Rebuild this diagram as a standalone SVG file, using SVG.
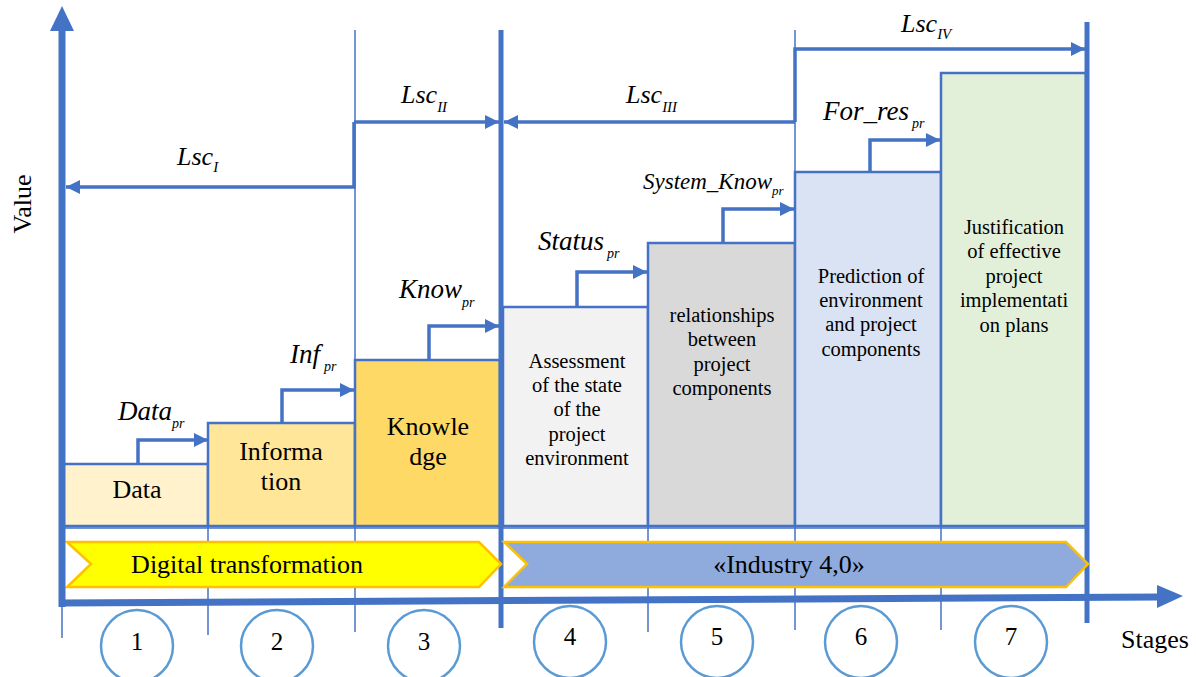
<svg xmlns="http://www.w3.org/2000/svg" width="1196" height="677" viewBox="0 0 1196 677" font-family="Liberation Serif, DejaVu Serif, serif">
<style>
  .t { fill: #000; }
  .lbl { font-style: italic; fill: #000; }
  .box { stroke: #4472C4; stroke-width: 2.5; }
  .conn { fill: none; stroke: #4472C4; stroke-width: 3.5; }
  .grid { stroke: #4472C4; stroke-width: 1.5; }
  .thick { stroke: #4472C4; stroke-width: 5; }
  .circ { fill: #fff; stroke: #5B9BD5; stroke-width: 2.5; }
  .chev { stroke: #FFC000; stroke-width: 2.5; }
</style>
<defs>
  <marker id="ah" markerUnits="userSpaceOnUse" markerWidth="15" markerHeight="15" refX="14" refY="7" orient="auto">
    <path d="M0,0 L14,7 L0,14 z" fill="#4472C4"/>
  </marker>
</defs>
<rect width="1196" height="677" fill="#fff"/>

<g id="grid">
  <line class="grid" x1="62" y1="605" x2="62" y2="638"/>
  <line class="grid" x1="208" y1="526" x2="208" y2="635"/>
  <line class="grid" x1="355" y1="30" x2="355" y2="632"/>
  <line class="grid" x1="648" y1="526" x2="648" y2="632"/>
  <line class="grid" x1="795" y1="30" x2="795" y2="630"/>
  <line class="grid" x1="941" y1="526" x2="941" y2="630"/>
  <line class="grid" x1="62" y1="528" x2="1087" y2="528"/>
</g>

<g id="box1"><rect class="box" x="63" y="464" width="145" height="62" fill="#FFF2CC"/>
  <text class="t" x="137" y="498" font-size="26" text-anchor="middle">Data</text></g>
<g id="box2"><rect class="box" x="208" y="423" width="147" height="103" fill="#FFE699"/>
  <text class="t" x="281" y="460" font-size="26" text-anchor="middle">Informa</text>
  <text class="t" x="281" y="490" font-size="26" text-anchor="middle">tion</text></g>
<g id="box3"><rect class="box" x="355" y="360" width="145" height="166" fill="#FFD966"/>
  <text class="t" x="428" y="435" font-size="26" text-anchor="middle">Knowle</text>
  <text class="t" x="428" y="465" font-size="26" text-anchor="middle">dge</text></g>
<g id="box4"><rect class="box" x="503" y="307" width="145" height="219" fill="#F2F2F2"/>
  <g class="t" font-size="20.5" text-anchor="middle">
  <text x="577" y="368">Assessment</text><text x="577" y="392">of the state</text><text x="577" y="416">of the</text><text x="577" y="441">project</text><text x="577" y="465">environment</text></g></g>
<g id="box5"><rect class="box" x="648" y="243" width="147" height="283" fill="#D9D9D9"/>
  <g class="t" font-size="20.5" text-anchor="middle">
  <text x="722" y="322">relationships</text><text x="722" y="346">between</text><text x="722" y="371">project</text><text x="722" y="395">components</text></g></g>
<g id="box6"><rect class="box" x="795" y="172" width="146" height="354" fill="#DAE3F3"/>
  <g class="t" font-size="20.5" text-anchor="middle">
  <text x="871" y="283">Prediction of</text><text x="871" y="307">environment</text><text x="871" y="331">and project</text><text x="871" y="356">components</text></g></g>
<g id="box7"><rect class="box" x="941" y="73" width="145" height="453" fill="#E2F0D9"/>
  <g class="t" font-size="20.5" text-anchor="middle">
  <text x="1014" y="234">Justification</text><text x="1014" y="258">of effective</text><text x="1014" y="283">project</text><text x="1014" y="307">implementati</text><text x="1014" y="332">on plans</text></g></g>

<g id="dividers">
  <line class="thick" x1="501" y1="30" x2="501" y2="628"/>
  <line class="thick" x1="1087" y1="22" x2="1087" y2="623"/>
</g>

<g id="connectors">
  <path class="conn" d="M138,464 V440 H208" marker-end="url(#ah)"/>
  <path class="conn" d="M282,423 V390 H354" marker-end="url(#ah)"/>
  <path class="conn" d="M429,360 V326 H499" marker-end="url(#ah)"/>
  <path class="conn" d="M577,307 V272 H647" marker-end="url(#ah)"/>
  <path class="conn" d="M723,243 V209 H794" marker-end="url(#ah)"/>
  <path class="conn" d="M870,172 V140 H940" marker-end="url(#ah)"/>
  <path class="conn" d="M354,122 V187 H66" marker-end="url(#ah)"/>
  <path class="conn" d="M354,122 H499" marker-end="url(#ah)"/>
  <path class="conn" d="M795,122 H504" marker-end="url(#ah)"/>
  <path class="conn" d="M795,122 V49 H1085" marker-end="url(#ah)"/>
</g>

<g id="labels">
  <text class="lbl" x="177" y="165" font-size="26">Lsc<tspan font-size="15" dy="7">I</tspan></text>
  <text class="lbl" x="401" y="103" font-size="26">Lsc<tspan font-size="15" dy="9">II</tspan></text>
  <text class="lbl" x="626" y="103" font-size="26">Lsc<tspan font-size="15" dy="9">III</tspan></text>
  <text class="lbl" x="901" y="32" font-size="26">Lsc<tspan font-size="15" dy="7">IV</tspan></text>
  <text class="lbl" x="118" y="420" font-size="27">Data<tspan font-size="14" dy="8">pr</tspan></text>
  <text class="lbl" x="290" y="363" font-size="27">Inf<tspan font-size="14" dy="8" dx="4">pr</tspan></text>
  <text class="lbl" x="399" y="298" font-size="27">Know<tspan font-size="14" dy="9">pr</tspan></text>
  <text class="lbl" x="538" y="250" font-size="27">Status<tspan font-size="14" dy="8" dx="3">pr</tspan></text>
  <text class="lbl" x="643" y="189" font-size="23">System_Know<tspan font-size="13" dy="6">pr</tspan></text>
  <text class="lbl" x="823" y="120" font-size="27">For_res<tspan font-size="14" dy="8" dx="3">pr</tspan></text>
</g>

<g id="band-digital">
  <polygon class="chev" points="67,542 479,542 501,564 479,587 67,587 91,564" fill="#FFFF00"/>
  <text class="t" x="247" y="573" font-size="26" text-anchor="middle">Digital transformation</text>
</g>
<g id="band-industry">
  <polygon class="chev" points="504,542 1066,542 1088,564 1066,587 504,587 527,564" fill="#8FAADC"/>
  <text class="t" x="789" y="573" font-size="26" text-anchor="middle">«Industry 4,0»</text>
</g>

<g id="axes">
  <line x1="62" y1="607" x2="62" y2="26" stroke="#4472C4" stroke-width="7"/>
  <polygon points="62,6 74,31 50,31" fill="#4472C4"/>
  <line x1="59" y1="603" x2="1160" y2="597" stroke="#4472C4" stroke-width="7"/>
  <polygon points="1183,596 1157,585 1157,608" fill="#4472C4"/>
  <text class="t" transform="translate(31,204) rotate(-90)" font-size="26" text-anchor="middle">Value</text>
  <text class="t" x="1121" y="648" font-size="26">Stages</text>
</g>

<g id="stages">
  <g id="s1"><circle class="circ" cx="137" cy="646" r="36"/><text class="t" x="137" y="650" font-size="25" text-anchor="middle">1</text></g>
  <g id="s2"><circle class="circ" cx="277" cy="646" r="36"/><text class="t" x="277" y="650" font-size="25" text-anchor="middle">2</text></g>
  <g id="s3"><circle class="circ" cx="424" cy="646" r="36"/><text class="t" x="424" y="650" font-size="25" text-anchor="middle">3</text></g>
  <g id="s4"><circle class="circ" cx="570" cy="642" r="36"/><text class="t" x="570" y="645" font-size="25" text-anchor="middle">4</text></g>
  <g id="s5"><circle class="circ" cx="717" cy="642" r="36"/><text class="t" x="717" y="645" font-size="25" text-anchor="middle">5</text></g>
  <g id="s6"><circle class="circ" cx="861" cy="642" r="36"/><text class="t" x="861" y="645" font-size="25" text-anchor="middle">6</text></g>
  <g id="s7"><circle class="circ" cx="1011" cy="642" r="36"/><text class="t" x="1011" y="645" font-size="25" text-anchor="middle">7</text></g>
</g>
</svg>
